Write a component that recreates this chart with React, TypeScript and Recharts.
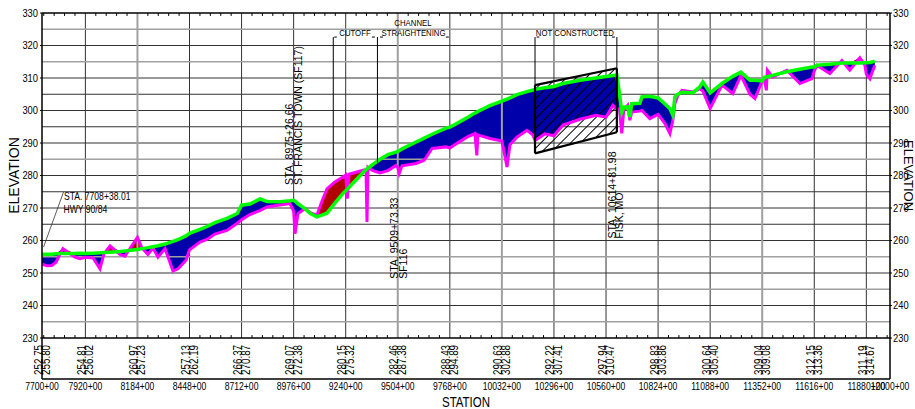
import React from "react";
import {
  ComposedChart,
  Area,
  Line,
  XAxis,
  YAxis,
  CartesianGrid,
  ReferenceLine,
  ReferenceDot,
} from "recharts";

document.body.style.margin = "0";

const SANS = "'Liberation Sans', Arial, sans-serif";
const NARROW_X = 0.82; // horizontal squeeze to mimic a narrow face

// profile: station, existing ground (magenta), design grade (green)
const stations = [
  7700, 7725, 7750, 7771, 7806, 7867, 7893, 7920, 7959, 7994, 8014, 8045, 8095, 8121, 8140, 8184,
  8207, 8237, 8263, 8288, 8324, 8364, 8390, 8430, 8448, 8501, 8537, 8577, 8638, 8690, 8712, 8754,
  8805, 8841, 8907, 8957, 8976, 8983, 8998, 9033, 9059, 9094, 9119, 9145, 9185, 9226, 9240, 9248,
  9257, 9328, 9343, 9348, 9353, 9363, 9378, 9414, 9454, 9495, 9504, 9511, 9526, 9597, 9638, 9678,
  9749, 9768, 9794, 9855, 9895, 9905, 9910, 9971, 10032, 10058, 10073, 10108, 10159, 10190, 10200,
  10250, 10296, 10342, 10428, 10509, 10560, 10595, 10615, 10628, 10640, 10650, 10670, 10681, 10690,
  10731, 10742, 10782, 10824, 10859, 10884, 10899, 10909, 10925, 10945, 11001, 11036, 11051, 11088,
  11148, 11203, 11244, 11290, 11315, 11352, 11363, 11373, 11378, 11404, 11477, 11543, 11604, 11616,
  11629, 11695, 11756, 11796, 11847, 11873, 11880, 11898, 11908, 11923,
];
const existingGround = [
  252.75, 252.2, 252.3, 253.3, 257.5, 254.9, 254.4, 254.81, 254.6, 251.3, 255.9, 258.3, 255.7, 255.2, 257.0, 260.97,
  257.7, 255.7, 257.7, 254.9, 257.5, 250.6, 251.3, 253.9, 257.13, 259.5, 260.3, 262.0, 263.1, 265.3, 266.37, 268.0,
  269.2, 270.3, 270.9, 271.4, 269.07, 262.1, 268.3, 269.8, 268.6, 267.8, 272.0, 275.9, 278.0, 279.5, 280.15, 272.9,
  280.4, 281.6, 281.8, 265.7, 282.5, 282.1, 281.5, 280.8, 281.5, 283.1, 282.46, 280.6, 283.0, 283.7, 284.7, 288.3,
  288.8, 288.43, 289.5, 291.8, 292.9, 286.2, 292.5, 291.4, 290.63, 282.6, 289.5, 291.8, 293.9, 292.4, 290.8,
  292.8, 292.22, 295.5, 297.3, 298.5, 297.94, 301.6, 300.5, 300.5, 293.0, 300.1, 301.6, 297.0, 299.5,
  299.8, 300.0, 297.5, 298.83, 296.0, 292.9, 297.0, 302.1, 304.7, 306.2, 305.7, 306.7, 306.0, 300.64,
  307.8, 305.2, 310.8, 305.0, 303.7, 309.04, 309.8, 306.2, 312.4, 310.3, 312.4, 308.3, 309.8, 312.15,
  313.9, 311.4, 315.4, 312.4, 316.2, 313.9, 311.19, 309.8, 311.5, 313.9,
];
const designGrade = [
  255.8, 255.8, 255.8, 255.9, 256.0, 256.0, 256.1, 256.02, 256.1, 256.2, 256.3, 256.4, 256.6, 256.8, 256.9, 257.23,
  257.5, 257.8, 258.1, 258.4, 258.9, 259.7, 260.3, 261.4, 262.19, 263.4, 264.3, 265.5, 266.8, 268.3, 270.87, 271.2,
  272.8, 272.0, 271.9, 272.2, 272.38, 272.1, 271.3, 269.8, 268.4, 267.3, 267.8, 268.4, 271.5, 274.5, 275.32, 275.8,
  276.4, 280.9, 281.8, 282.0, 282.3, 282.7, 283.4, 285.0, 286.4, 287.2, 287.38, 287.6, 288.2, 290.3, 291.5, 292.7,
  294.6, 294.89, 295.7, 297.8, 299.2, 299.5, 299.7, 301.5, 302.88, 303.5, 303.9, 304.9, 305.8, 306.3, 306.5,
  307.0, 307.41, 308.3, 309.3, 310.0, 310.47, 310.8, 310.9, 305.2, 299.5, 301.0, 301.1, 298.0, 302.1,
  302.2, 304.2, 304.4, 303.86, 302.0, 300.5, 298.5, 304.2, 305.0, 305.6, 305.5, 307.3, 308.8, 305.4,
  308.3, 310.5, 311.8, 309.3, 309.3, 309.08, 310.2, 310.3, 310.4, 310.8, 311.9, 312.7, 313.4, 313.36,
  313.9, 314.2, 314.6, 314.6, 314.6, 314.7, 314.67, 314.8, 314.9, 315.2,
];

// labelled stations and the values printed under them
const tickStations = [7700, 7920, 8184, 8448, 8712, 8976, 9240, 9504, 9768, 10032, 10296, 10560, 10824, 11088, 11352, 11616, 11880, 12000];
const tickExisting = [252.75, 254.81, 260.97, 257.13, 266.37, 269.07, 280.15, 282.46, 288.43, 290.63, 292.22, 297.94, 298.83, 300.64, 309.04, 312.15, 311.19];
const tickDesign = [255.8, 256.02, 257.23, 262.19, 270.87, 272.38, 275.32, 287.38, 294.89, 302.88, 307.41, 310.47, 303.86, 305.4, 309.08, 313.36, 314.67];

const elevTicks = [230, 240, 250, 260, 270, 280, 290, 300, 310, 320, 330];
const gridDark = [240, 250, 260, 265, 270, 275, 280, 290, 295, 300, 305, 310, 320];
const gridLight = [235, 245, 255, 285, 315, 325];
const vGridDark = [7920, 8448, 8712, 8976, 9240, 9768, 10296, 10560, 10824, 11088, 11616, 11880];
const vGridLight = [8184, 9504, 10032, 11352];

// "not constructed" reach
const boxStations = [10200, 10615];
const boxTop = [307.8, 313.0];
const boxBottom = [286.8, 293.3];

const data = stations.map((s, i) => {
  const e = existingGround[i];
  const d = designGrade[i];
  const bi = boxStations.indexOf(s);
  return {
    station: s,
    existing: e,
    design: d,
    cut: [e, Math.max(e, d)],
    fill: [d, Math.max(e, d)],
    box: bi >= 0 ? [boxBottom[bi], boxTop[bi]] : null,
  };
});

const minorTicks: number[] = [];
for (let k = -4; k <= 77; k++) {
  if (k % 5 !== 0) minorTicks.push(7920 + 52.8 * k);
}

const BAND = 217.4; // bottom of the value band, below the plot
const BRACKET = 322.6;

// text helper: position, rotation, optional horizontal squeeze
function T(props: { x: number; y: number; rot?: number; sx?: number; size: number; anchor?: string; dy?: string; children: any }) {
  const { x, y, rot = 0, sx = 1, size, anchor = "start", dy, children } = props;
  return (
    <text
      transform={`translate(${x},${y}) rotate(${rot}) scale(${sx},1)`}
      textAnchor={anchor as any}
      dy={dy}
      fontSize={size}
      fontFamily={SANS}
      fill="#000"
    >
      {children}
    </text>
  );
}

function StationTick(props: any) {
  const { x, y, payload } = props;
  const v = payload.value as number;
  const i = tickStations.indexOf(v);
  return (
    <g>
      <T x={x} y={y + 52} sx={NARROW_X} size={10.5} anchor="middle">{`${v}+00`}</T>
      {i < tickExisting.length && (
        <>
          <T x={x + 0.5} y={y + 37} rot={-90} sx={NARROW_X} size={12}>{tickExisting[i].toFixed(2)}</T>
          <T x={x + 8} y={y + 37} rot={-90} sx={NARROW_X} size={12}>{tickDesign[i].toFixed(2)}</T>
        </>
      )}
    </g>
  );
}

function ElevTick(props: any) {
  const { x, y, payload, textAnchor } = props;
  return (
    <T x={x} y={y} sx={0.85} size={11} anchor={textAnchor} dy="0.36em">
      {payload.value}
    </T>
  );
}

function note(key: string, x: number, y: number, text: string, rot: number, anchor: string, size: number, sx: number) {
  return (
    <ReferenceDot
      key={key}
      x={x}
      y={y}
      r={0}
      fill="none"
      stroke="none"
      ifOverflow="visible"
      label={{
        content: (p: any) => {
          const vb = p.viewBox;
          return (
            <T x={vb.x + vb.width / 2} y={vb.y + vb.height / 2} rot={rot} sx={sx} size={size} anchor={anchor}>
              {text}
            </T>
          );
        },
      }}
    />
  );
}

function seg(key: string, x1: number, y1: number, x2: number, y2: number, w = 1, color = "#000") {
  return (
    <ReferenceLine
      key={key}
      segment={[{ x: x1, y: y1 }, { x: x2, y: y2 }]}
      stroke={color}
      strokeWidth={w}
      ifOverflow="visible"
    />
  );
}

export default function App() {
  return (
    <div style={{ position: "relative", width: 915, height: 409, background: "#fff" }}>
      <svg width={0} height={0} style={{ position: "absolute" }}>
        <defs>
          <pattern id="hatch" width={7} height={7} patternUnits="userSpaceOnUse" patternTransform="rotate(45)">
            <line x1={0} y1={0} x2={0} y2={7} stroke="#000" strokeWidth={2} />
          </pattern>
        </defs>
      </svg>
      <ComposedChart width={915} height={409} data={data} margin={{ top: 13, right: 0, bottom: 0, left: 0 }}>
        <CartesianGrid stroke="#333" horizontalValues={gridDark} verticalValues={vGridDark} />
        {gridLight.map((v) => (
          <ReferenceLine key={"h" + v} y={v} stroke="#a0a0a0" strokeWidth={1.5} />
        ))}
        {vGridLight.map((v) => (
          <ReferenceLine key={"v" + v} x={v} stroke="#a0a0a0" strokeWidth={2} />
        ))}
        <ReferenceLine y={330} stroke="#000" strokeWidth={1.5} />

        <XAxis
          dataKey="station"
          type="number"
          domain={[7700, 12000]}
          ticks={tickStations}
          interval={0}
          tickSize={0}
          tickMargin={0}
          tickLine={false}
          axisLine={{ stroke: "#000", strokeWidth: 1.5 }}
          height={71}
          allowDataOverflow
          tick={(p: any) => <StationTick {...p} />}
          label={{
            content: (p: any) => {
              const vb = p.viewBox;
              return (
                <T x={vb.x + vb.width / 2} y={vb.y + 69} sx={NARROW_X} size={14} anchor="middle">
                  STATION
                </T>
              );
            },
          }}
        />
        <YAxis
          domain={[230, 330]}
          ticks={elevTicks}
          interval={0}
          width={42}
          tickSize={2}
          tickMargin={2}
          allowDataOverflow
          axisLine={{ stroke: "#000", strokeWidth: 1.5 }}
          tickLine={{ stroke: "#000" }}
          tick={(p: any) => <ElevTick {...p} />}
          label={{
            content: (p: any) => {
              const vb = p.viewBox;
              return (
                <T x={vb.x + 19} y={vb.y + vb.height / 2} rot={-90} size={14} anchor="middle">
                  ELEVATION
                </T>
              );
            },
          }}
        />
        <YAxis
          yAxisId="right"
          orientation="right"
          domain={[230, 330]}
          ticks={elevTicks}
          interval={0}
          width={25}
          tickSize={2}
          tickMargin={1}
          allowDataOverflow
          axisLine={{ stroke: "#000", strokeWidth: 1.5 }}
          tickLine={{ stroke: "#000" }}
          tick={(p: any) => <ElevTick {...p} />}
          label={{
            content: (p: any) => {
              const vb = p.viewBox;
              return (
                <T x={vb.x + 14} y={vb.y + vb.height / 2} rot={90} size={13} anchor="middle">
                  ELEVATION
                </T>
              );
            },
          }}
        />

        {minorTicks.map((s, i) => seg("mt" + i, s, 330, s, 329.1))}
        {minorTicks.map((s, i) => seg("mb" + i, s, 230, s, 230.9))}
        {seg("bandB", 7700, BAND, 12000, BAND, 1.5)}
        {seg("bandL", 7700, 230, 7700, BAND, 1.5)}
        {seg("bandR", 12000, 230, 12000, BAND, 1.5)}

        <Area type="linear" dataKey="cut" fill="#0000aa" fillOpacity={1} stroke="none" isAnimationActive={false} activeDot={false} />
        <Area type="linear" dataKey="fill" fill="#b00000" fillOpacity={1} stroke="none" isAnimationActive={false} activeDot={false} />
        <Line type="linear" dataKey="existing" stroke="#ff00ff" strokeWidth={3} dot={false} isAnimationActive={false} activeDot={false} />
        <Line type="linear" dataKey="design" stroke="#00ff00" strokeWidth={3.5} dot={false} isAnimationActive={false} activeDot={false} />
        <Area type="linear" dataKey="box" connectNulls fill="url(#hatch)" fillOpacity={1} stroke="none" isAnimationActive={false} activeDot={false} />

        {seg("boxT", boxStations[0], boxTop[0], boxStations[1], boxTop[1], 2.2)}
        {seg("boxB", boxStations[0], boxBottom[0], boxStations[1], boxBottom[1], 2.2)}
        {seg("boxL", boxStations[0], boxBottom[0], boxStations[0], boxTop[0], 2.2)}
        {seg("boxR", boxStations[1], boxBottom[1], boxStations[1], boxTop[1], 2.2)}

        {/* brackets */}
        {seg("cutL", 9177, BRACKET, 9177, 280.1)}
        {seg("cutR", 9401, BRACKET, 9401, 284.0)}
        {seg("d1", 9182, BRACKET, 9195, BRACKET)}
        {seg("d2", 9373, BRACKET, 9388, BRACKET)}
        {seg("d3", 9414, BRACKET, 9429, BRACKET)}
        {seg("d4", 9748, BRACKET, 9763, BRACKET)}
        {seg("ncL", boxStations[0], BRACKET, boxStations[0], boxTop[0])}
        {seg("ncR", boxStations[1], BRACKET, boxStations[1], boxTop[1])}
        {seg("d5", 10208, BRACKET, 10222, BRACKET)}
        {seg("d6", 10590, BRACKET, 10605, BRACKET)}
        {seg("lead", 7708, 258.0, 7809, 274.9, 0.8, "#333")}

        {note("n1", 7811, 272.4, "STA. 7708+38.01", 0, "start", 10.5, NARROW_X)}
        {note("n2", 7809, 268.6, "HWY 90/84", 0, "start", 10.5, NARROW_X)}
        {note("n3", 8975, 277.1, "STA. 8975+26.66", -90, "start", 10.5, 1)}
        {note("n4", 9018, 277.1, "ST. FRANCIS TOWN (SF117)", -90, "start", 10.5, 1)}
        {note("n5", 9507, 248.2, "STA. 9509+73.33", -90, "start", 10.5, 1)}
        {note("n6", 9550, 248.2, "SF116", -90, "start", 10.5, 1)}
        {note("n7", 10613, 260.6, "STA. 10614+81.98", -90, "start", 10.5, 1)}
        {note("n8", 10648, 260.6, "FISK, MO", -90, "start", 10.5, 1)}
        {note("n9", 9581, 325.9, "CHANNEL", 0, "middle", 9.5, NARROW_X)}
        {note("n10", 9287, 322.9, "CUTOFF", 0, "middle", 9.5, NARROW_X)}
        {note("n11", 9584, 322.9, "STRAIGHTENING", 0, "middle", 9.5, NARROW_X)}
        {note("n12", 10402, 322.9, "NOT CONSTRUCTED", 0, "middle", 9.5, NARROW_X)}
      </ComposedChart>
    </div>
  );
}
